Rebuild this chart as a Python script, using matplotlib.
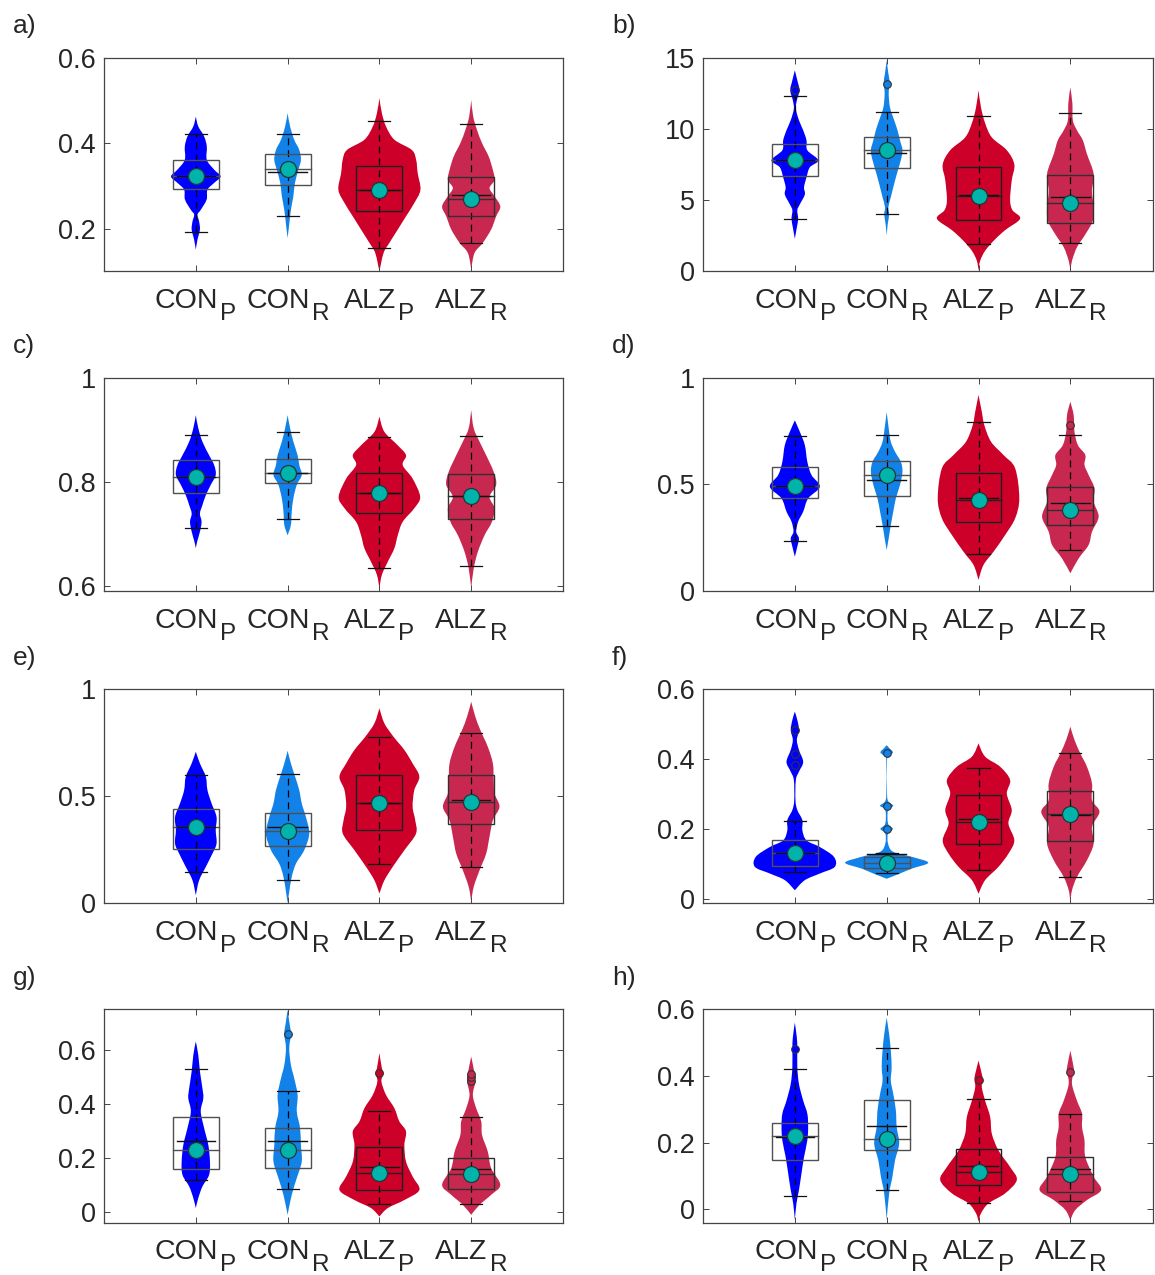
import numpy as np
import matplotlib
matplotlib.use('Agg')
import matplotlib.pyplot as plt
from matplotlib.path import Path
from matplotlib.patches import PathPatch, Rectangle
from matplotlib.transforms import blended_transform_factory, ScaledTranslation

plt.rcParams['font.family'] = ['Liberation Sans', 'DejaVu Sans']

W, H, DPI = 1155, 1275, 100

groups = ['CON', 'CON', 'ALZ', 'ALZ']
subs = ['P', 'R', 'P', 'R']
colors = ['#0000ff', '#1282e8', '#cc0028', '#c8284f']
box_edges = ['#505050', '#505050', '#202020', '#303030']
dot_color = '#00b4ac'
txt = '#262626'

# violin outlines: (y, half width) from bottom tip to top tip
# box rows: low whisker, q1, median, q3, high whisker, mean
a_shape = [
    [(0.151, 0), (0.174, 0.018), (0.198, 0.045), (0.217, 0.036), (0.233, 0.018), (0.244, 0.054),
     (0.268, 0.118), (0.291, 0.127), (0.307, 0.2), (0.322, 0.27), (0.338, 0.2), (0.361, 0.12),
     (0.392, 0.12), (0.416, 0.09), (0.439, 0.027), (0.462, 0)],
    [(0.178, 0), (0.205, 0.015), (0.244, 0.036), (0.276, 0.063), (0.307, 0.08), (0.338, 0.118),
     (0.361, 0.145), (0.384, 0.127), (0.408, 0.072), (0.439, 0.027), (0.470, 0)],
    [(0.10, 0), (0.143, 0.045), (0.167, 0.109), (0.198, 0.2), (0.229, 0.29), (0.260, 0.38),
     (0.291, 0.447), (0.330, 0.417), (0.361, 0.40), (0.384, 0.353), (0.408, 0.163), (0.439, 0.072),
     (0.470, 0.027), (0.505, 0)],
    [(0.105, 0), (0.143, 0.036), (0.167, 0.127), (0.198, 0.217), (0.229, 0.272), (0.252, 0.317),
     (0.276, 0.254), (0.295, 0.2), (0.314, 0.254), (0.338, 0.235), (0.369, 0.19), (0.4, 0.118),
     (0.431, 0.063), (0.462, 0.022), (0.501, 0)],
]
a_box = [[0.192, 0.293, 0.322, 0.361, 0.421, 0.322],
         [0.229, 0.301, 0.340, 0.374, 0.421, 0.332],
         [0.155, 0.241, 0.291, 0.347, 0.451, 0.291],
         [0.167, 0.230, 0.269, 0.321, 0.445, 0.279]]
a_out = [[], [], [], []]

b_shape = [
    [(2.3, 0), (3.1, 0.022), (3.7, 0.036), (4.3, 0.027), (4.7, 0.054), (5.4, 0.109), (5.9, 0.1),
     (6.6, 0.127), (7.3, 0.163), (7.8, 0.254), (8.5, 0.136), (9.2, 0.127), (9.9, 0.091),
     (10.6, 0.045), (11.4, 0.011), (12.0, 0.022), (12.7, 0.05), (13.4, 0.027), (14.1, 0)],
    [(2.5, 0), (3.3, 0.011), (4.0, 0.027), (4.5, 0.018), (5.2, 0.045), (5.9, 0.072), (6.8, 0.109),
     (7.8, 0.154), (8.5, 0.172), (9.2, 0.145), (9.9, 0.118), (10.6, 0.082), (11.5, 0.036),
     (12.5, 0.022), (13.2, 0.033), (13.9, 0.018), (14.8, 0)],
    [(0.05, 0), (0.75, 0.018), (1.45, 0.072), (2.2, 0.172), (2.9, 0.29), (3.7, 0.453), (4.3, 0.37),
     (5.0, 0.344), (6.4, 0.362), (7.5, 0.39), (8.5, 0.308), (9.4, 0.145), (10.4, 0.072),
     (11.5, 0.027), (12.7, 0)],
    [(0.05, 0), (0.75, 0.018), (1.7, 0.072), (2.6, 0.163), (3.56, 0.245), (4.5, 0.254), (5.67, 0.235),
     (6.84, 0.254), (8.25, 0.18), (9.2, 0.136), (9.9, 0.072), (10.6, 0.027), (11.8, 0.022), (12.9, 0)],
]
b_box = [[3.68, 6.66, 7.83, 8.93, 12.28, 7.83],
         [4.03, 7.24, 8.55, 9.40, 11.2, 8.32],
         [1.92, 3.61, 5.27, 7.34, 10.9, 5.37],
         [1.97, 3.37, 4.80, 6.77, 11.1, 5.2]]
b_out = [[12.7], [13.15], [], []]

c_shape = [
    [(0.672, 0), (0.685, 0.015), (0.704, 0.045), (0.723, 0.063), (0.739, 0.045), (0.755, 0.072),
     (0.774, 0.109), (0.794, 0.163), (0.813, 0.217), (0.832, 0.2), (0.851, 0.145), (0.877, 0.072),
     (0.903, 0.027), (0.928, 0)],
    [(0.697, 0), (0.717, 0.036), (0.742, 0.045), (0.768, 0.063), (0.794, 0.1), (0.813, 0.154),
     (0.832, 0.127), (0.851, 0.109), (0.877, 0.063), (0.903, 0.027), (0.928, 0)],
    [(0.595, 0), (0.621, 0.027), (0.646, 0.091), (0.672, 0.163), (0.697, 0.2), (0.723, 0.254),
     (0.749, 0.38), (0.771, 0.444), (0.806, 0.362), (0.832, 0.254), (0.851, 0.29), (0.870, 0.2),
     (0.896, 0.054), (0.925, 0)],
    [(0.595, 0), (0.633, 0.027), (0.665, 0.072), (0.697, 0.145), (0.723, 0.226), (0.749, 0.254),
     (0.771, 0.2), (0.794, 0.272), (0.819, 0.245), (0.851, 0.163), (0.877, 0.091), (0.903, 0.027),
     (0.938, 0)],
]
c_box = [[0.712, 0.779, 0.810, 0.841, 0.889, 0.809],
         [0.729, 0.797, 0.816, 0.843, 0.896, 0.816],
         [0.635, 0.740, 0.779, 0.817, 0.886, 0.779],
         [0.638, 0.728, 0.772, 0.814, 0.888, 0.772]]
c_out = [[], [], [], []]

d_shape = [
    [(0.161, 0), (0.208, 0.027), (0.247, 0.045), (0.278, 0.015), (0.325, 0.036), (0.372, 0.091),
     (0.434, 0.145), (0.489, 0.272), (0.544, 0.181), (0.606, 0.136), (0.684, 0.109), (0.747, 0.054),
     (0.80, 0)],
    [(0.192, 0), (0.247, 0.022), (0.309, 0.045), (0.372, 0.072), (0.434, 0.1), (0.497, 0.145),
     (0.559, 0.172), (0.606, 0.154), (0.653, 0.091), (0.70, 0.045), (0.763, 0.022), (0.84, 0)],
    [(0.052, 0), (0.122, 0.054), (0.184, 0.163), (0.2625, 0.29), (0.341, 0.399), (0.434, 0.444),
     (0.575, 0.399), (0.6375, 0.272), (0.70, 0.136), (0.778, 0.063), (0.84, 0.036), (0.919, 0)],
    [(0.083, 0), (0.153, 0.091), (0.216, 0.199), (0.278, 0.236), (0.348, 0.308), (0.419, 0.254),
     (0.481, 0.263), (0.544, 0.199), (0.591, 0.154), (0.6375, 0.163), (0.684, 0.082), (0.747, 0.045),
     (0.825, 0.036), (0.8875, 0)],
]
d_box = [[0.234, 0.4375, 0.494, 0.580, 0.725, 0.494],
         [0.303, 0.445, 0.544, 0.609, 0.731, 0.519],
         [0.172, 0.325, 0.427, 0.552, 0.794, 0.4375],
         [0.191, 0.308, 0.380, 0.4875, 0.730, 0.411]]
d_out = [[], [], [], [0.778]]

e_shape = [
    [(0.036, 0), (0.106, 0.036), (0.169, 0.109), (0.231, 0.181), (0.278, 0.226), (0.341, 0.217),
     (0.403, 0.226), (0.466, 0.172), (0.528, 0.127), (0.591, 0.109), (0.653, 0.045), (0.708, 0)],
    [(0.0, 0), (0.044, 0.015), (0.122, 0.045), (0.184, 0.091), (0.247, 0.181), (0.325, 0.236),
     (0.403, 0.199), (0.466, 0.154), (0.528, 0.127), (0.591, 0.082), (0.653, 0.036), (0.7125, 0)],
    [(0.044, 0), (0.106, 0.054), (0.169, 0.145), (0.247, 0.272), (0.325, 0.399), (0.3875, 0.39),
     (0.45, 0.362), (0.528, 0.38), (0.591, 0.435), (0.653, 0.362), (0.716, 0.272), (0.778, 0.154),
     (0.841, 0.054), (0.911, 0)],
    [(0.005, 0), (0.075, 0.027), (0.153, 0.091), (0.231, 0.163), (0.309, 0.199), (0.3875, 0.236),
     (0.45, 0.308), (0.5125, 0.254), (0.575, 0.245), (0.653, 0.236), (0.731, 0.181), (0.809, 0.1),
     (0.872, 0.045), (0.942, 0)],
]
e_box = [[0.145, 0.255, 0.355, 0.439, 0.600, 0.355],
         [0.106, 0.266, 0.339, 0.419, 0.605, 0.356],
         [0.184, 0.341, 0.470, 0.598, 0.775, 0.470],
         [0.169, 0.369, 0.472, 0.600, 0.794, 0.481]]
e_out = [[], [], [], []]

f_shape = [
    [(0.024, 0), (0.053, 0.109), (0.072, 0.272), (0.091, 0.435), (0.12, 0.425), (0.148, 0.272),
     (0.167, 0.127), (0.196, 0.082), (0.225, 0.082), (0.254, 0.027), (0.282, 0.007), (0.340, 0.011),
     (0.364, 0.045), (0.392, 0.091), (0.426, 0.045), (0.455, 0.022), (0.483, 0.045), (0.512, 0.027),
     (0.536, 0)],
    [(0.057, 0), (0.072, 0.145), (0.086, 0.272), (0.103, 0.453), (0.12, 0.272), (0.134, 0.072),
     (0.158, 0.015), (0.187, 0.015), (0.2, 0.068), (0.215, 0.015), (0.254, 0.015), (0.266, 0.072),
     (0.278, 0.02), (0.300, 0.004), (0.395, 0.004), (0.407, 0.018), (0.419, 0.068), (0.431, 0.03),
     (0.440, 0)],
    [(0.014, 0), (0.053, 0.072), (0.091, 0.217), (0.129, 0.326), (0.167, 0.39), (0.215, 0.326),
     (0.254, 0.362), (0.301, 0.308), (0.34, 0.344), (0.378, 0.236), (0.407, 0.072), (0.445, 0)],
    [(-0.01, 0), (0.024, 0.018), (0.062, 0.072), (0.11, 0.181), (0.158, 0.254), (0.206, 0.236),
     (0.249, 0.317), (0.282, 0.236), (0.33, 0.236), (0.378, 0.181), (0.416, 0.109), (0.455, 0.045),
     (0.493, 0)],
]
f_box = [[0.075, 0.093, 0.132, 0.167, 0.223, 0.132],
         [0.074, 0.089, 0.103, 0.120, 0.132, 0.129],
         [0.083, 0.158, 0.220, 0.296, 0.373, 0.227],
         [0.062, 0.166, 0.244, 0.308, 0.418, 0.241]]
f_out = [[0.383, 0.414, 0.483], [0.2, 0.266, 0.418], [], []]

g_shape = [
    [(0.014, 0), (0.051, 0.027), (0.094, 0.072), (0.137, 0.145), (0.186, 0.154), (0.248, 0.136),
     (0.31, 0.091), (0.372, 0.054), (0.421, 0.082), (0.458, 0.072), (0.52, 0.045), (0.581, 0.027),
     (0.631, 0)],
    [(-0.011, 0), (0.063, 0.045), (0.125, 0.1), (0.186, 0.154), (0.248, 0.145), (0.31, 0.136),
     (0.372, 0.1), (0.433, 0.109), (0.495, 0.072), (0.544, 0.036), (0.606, 0.018), (0.659, 0.036),
     (0.705, 0.018), (0.748, 0)],
    [(-0.017, 0), (0.014, 0.091), (0.044, 0.272), (0.081, 0.435), (0.131, 0.362), (0.186, 0.29),
     (0.248, 0.272), (0.298, 0.29), (0.335, 0.217), (0.384, 0.163), (0.433, 0.072), (0.483, 0.022),
     (0.514, 0.045), (0.532, 0.027), (0.588, 0)],
    [(-0.011, 0), (0.026, 0.091), (0.063, 0.217), (0.1, 0.317), (0.162, 0.217), (0.223, 0.181),
     (0.285, 0.118), (0.335, 0.109), (0.384, 0.054), (0.433, 0.018), (0.483, 0.045), (0.514, 0.036),
     (0.575, 0)],
]
g_box = [[0.119, 0.160, 0.228, 0.353, 0.528, 0.262],
         [0.086, 0.162, 0.230, 0.312, 0.447, 0.262],
         [0.030, 0.081, 0.143, 0.242, 0.372, 0.165],
         [0.030, 0.085, 0.140, 0.199, 0.352, 0.158]]
g_out = [[], [0.659], [0.514], [0.485, 0.498, 0.51]]

h_shape = [
    [(-0.032, 0), (0.018, 0.018), (0.058, 0.045), (0.107, 0.072), (0.157, 0.1), (0.207, 0.136),
     (0.247, 0.145), (0.287, 0.136), (0.326, 0.091), (0.376, 0.045), (0.426, 0.027), (0.481, 0.027),
     (0.515, 0.022), (0.56, 0)],
    [(-0.032, 0), (0.048, 0.027), (0.098, 0.063), (0.147, 0.091), (0.197, 0.136), (0.247, 0.109),
     (0.297, 0.1), (0.346, 0.072), (0.386, 0.045), (0.426, 0.054), (0.476, 0.045), (0.525, 0.027),
     (0.575, 0)],
    [(-0.037, 0), (-0.012, 0.027), (0.018, 0.109), (0.048, 0.29), (0.088, 0.417), (0.127, 0.344),
     (0.177, 0.217), (0.227, 0.145), (0.277, 0.127), (0.326, 0.072), (0.366, 0.036), (0.389, 0.045),
     (0.406, 0.036), (0.446, 0)],
    [(-0.032, 0), (-0.002, 0.054), (0.028, 0.181), (0.058, 0.335), (0.098, 0.254), (0.157, 0.163),
     (0.207, 0.154), (0.247, 0.127), (0.287, 0.127), (0.326, 0.072), (0.376, 0.018), (0.413, 0.036),
     (0.426, 0.036), (0.476, 0)],
]
h_box = [[0.040, 0.147, 0.221, 0.259, 0.420, 0.217],
         [0.057, 0.177, 0.211, 0.328, 0.483, 0.250],
         [0.019, 0.073, 0.111, 0.181, 0.330, 0.131],
         [0.026, 0.051, 0.107, 0.157, 0.285, 0.122]]
h_out = [[0.481], [], [0.389], [0.413]]

letters = ['a)', 'b)', 'c)', 'd)', 'e)', 'f)', 'g)', 'h)']
shapes = [a_shape, b_shape, c_shape, d_shape, e_shape, f_shape, g_shape, h_shape]
boxes = [a_box, b_box, c_box, d_box, e_box, f_box, g_box, h_box]
outs = [a_out, b_out, c_out, d_out, e_out, f_out, g_out, h_out]
ylims = [(0.1, 0.6), (0, 15), (0.59, 1), (0, 1), (0, 1), (-0.0125, 0.6), (-0.04, 0.75), (-0.04, 0.6)]
yticks = [[0.2, 0.4, 0.6], [0, 5, 10, 15], [0.6, 0.8, 1], [0, 0.5, 1], [0, 0.5, 1],
          [0, 0.2, 0.4, 0.6], [0, 0.2, 0.4, 0.6], [0, 0.2, 0.4, 0.6]]

# axes frames in pixels: left, right, top, bottom
col_x = [(104, 563, 5.0), (703, 1153, 4.9)]
row_y = [(57.5, 271.5), (377.7, 591), (689.3, 903), (1009.3, 1222.7)]


def half_curve(pts):
    p = np.array(pts, float)
    xy = np.column_stack([p[:, 1], p[:, 0]])
    ext = np.vstack([xy[0], xy, xy[-1]])
    verts = [xy[0]]
    for i in range(len(xy) - 1):
        p0, p1, p2, p3 = ext[i], ext[i + 1], ext[i + 2], ext[i + 3]
        c1 = p1 + (p2 - p0) / 6
        c2 = p2 - (p3 - p1) / 6
        c1[0] = max(c1[0], 0)
        c2[0] = max(c2[0], 0)
        verts += [c1, c2, p2.copy()]
    return np.array(verts)


def violin_path(pts, c):
    v = half_curve(pts)
    right = v.copy()
    right[:, 0] = c + v[:, 0]
    left = v[::-1].copy()
    left[:, 0] = c - left[:, 0]
    verts = np.vstack([right, left[1:], right[:1]])
    codes = ([Path.MOVETO] + [Path.CURVE4] * (len(right) - 1)
             + [Path.CURVE4] * (len(left) - 1) + [Path.CLOSEPOLY])
    return Path(verts, codes)


fig = plt.figure(figsize=(W / DPI, H / DPI), dpi=DPI)
axes = []
for k in range(8):
    row, col = k // 2, k % 2
    x0, x1, xmax = col_x[col]
    yt, yb = row_y[row]
    ax = fig.add_axes([x0 / W, 1 - yb / H, (x1 - x0) / W, (yb - yt) / H])
    axes.append(ax)

    for i in range(4):
        c = i + 1
        lo, q1, med, q3, hi, mean = boxes[k][i]
        ax.add_patch(PathPatch(violin_path(shapes[k][i], c), facecolor=colors[i],
                               edgecolor='none', zorder=1))
        ax.plot([c, c], [lo, hi], color='k', lw=0.9, ls=(0, (5.5, 4)), zorder=2)
        for v in (lo, hi):
            ax.plot([c - 0.12, c + 0.12], [v, v], color='#111111', lw=0.9, zorder=2)
        ax.add_patch(Rectangle((c - 0.25, q1), 0.5, q3 - q1, fill=False,
                               edgecolor=box_edges[i], lw=1.0, zorder=3))
        ax.plot([c - 0.25, c + 0.25], [med, med], color=box_edges[i], lw=1.0, zorder=3)
        ax.plot([c - 0.21, c + 0.21], [mean, mean], color='#111111', lw=1.0, zorder=3)
        for o in outs[k][i]:
            ax.plot(c, o, 'o', ms=5.5, mfc=colors[i], mec='#333333', mew=0.8, zorder=4)
        ax.plot(c, med, 'o', ms=11.5, mfc=dot_color, mec='#1c3a3a', mew=0.9, zorder=5)

    ax.set_xlim(0, xmax)
    ax.set_ylim(*ylims[k])
    ax.set_xticks([1, 2, 3, 4])
    ax.set_xticklabels([])
    ax.set_yticks(yticks[k])
    ax.set_yticklabels(['%g' % t for t in yticks[k]])
    ax.tick_params(direction='in', top=True, right=True, length=4, width=0.7,
                   color='#444444', labelsize=19.5, labelcolor=txt, pad=6)
    for s in ax.spines.values():
        s.set_color('#444444')
        s.set_linewidth(0.9)

    fig.text((13 if col == 0 else 612) / W, 1 - (yt - 24.5) / H, letters[k],
             fontsize=19, color=txt, va='baseline', ha='left')

# category labels with subscripts
r = fig.canvas.get_renderer()
for ax in axes:
    base = blended_transform_factory(ax.transData, ax.transAxes)
    for i in range(4):
        t1 = ax.text(i + 1, 0, groups[i], fontsize=20.5, color=txt, ha='left', va='baseline')
        t2 = ax.text(i + 1, 0, subs[i], fontsize=17.5, color=txt, ha='left', va='baseline')
        w1 = t1.get_window_extent(r).width
        w2 = t2.get_window_extent(r).width
        xs = -(w1 + w2 + 2) / 2
        t1.set_transform(base + ScaledTranslation(xs / DPI, -36.5 / DPI, fig.dpi_scale_trans))
        t2.set_transform(base + ScaledTranslation((xs + w1 + 2) / DPI, -48.5 / DPI, fig.dpi_scale_trans))

fig.savefig('out.png', dpi=DPI)
